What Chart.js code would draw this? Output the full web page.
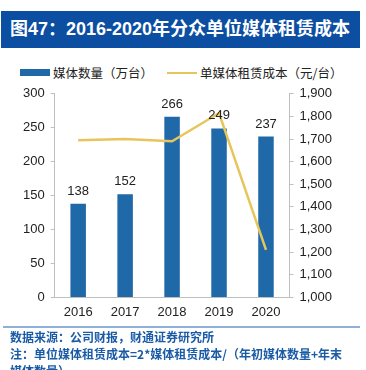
<!DOCTYPE html>
<html>
<head>
<meta charset="utf-8">
<script src="https://cdn.jsdelivr.net/npm/chart.js@4"></script>
<style>
  body { margin: 0; width: 366px; height: 370px; overflow: hidden; background: #fff; font-family: "Noto Sans CJK SC", sans-serif; }
  #title { position: absolute; left: 1px; top: 11px; width: 359px; height: 37px; background: #0b4ea2; color: #fff;
           font-family: "Liberation Sans", "Noto Sans CJK SC", sans-serif;
           font-size: 18px; font-weight: bold; line-height: 37px; padding-left: 9px; box-sizing: border-box; white-space: nowrap; }
  #legend { position: absolute; left: 20px; top: 62px; font-size: 12.5px; color: #222; white-space: nowrap; line-height: 18px; }
  #legend span { display: inline-block; vertical-align: middle; }
  .sw-bar { width: 30px; height: 7px; background: #1f69a8; margin-right: 3px; }
  .sw-line { width: 30px; height: 2px; background: #e8c55a; margin: 0 3px 0 14px; }
  #box { position: absolute; left: 0; top: 80px; width: 366px; height: 251px; }
  #sep { position: absolute; left: 3px; top: 326px; width: 357px; height: 2px; background: #8fb0d8; }
  #foot { position: absolute; left: 10px; top: 328px; width: 350px; color: #1a5ba6; font-size: 12px; line-height: 17px; font-weight: bold; }
</style>
</head>
<body>
<div id="title">图47：2016-2020年分众单位媒体租赁成本</div>
<div id="legend"><span class="sw-bar"></span><span id="lg0"></span><span class="sw-line"></span><span id="lg1"></span></div>
<div id="box"><canvas id="chart"></canvas></div>
<div id="sep"></div>
<div id="foot">数据来源：公司财报，财通证券研究所<br>注：单位媒体租赁成本=2*媒体租赁成本/（年初媒体数量+年末<br>媒体数量）</div>
<script>
// 数据
var years = ["2016", "2017", "2018", "2019", "2020"];
var seriesNames = ["媒体数量（万台）", "单媒体租赁成本（元/台）"];
var mediaCount = [138, 152, 266, 249, 237];   // 媒体数量（万台）
var unitCost = [1695, 1700, 1690, 1815, 1210]; // 单媒体租赁成本（元/台）
var leftTicks = [0, 300, 50];
var rightTicks = [1000, 1900, 100];

document.getElementById("lg0").textContent = seriesNames[0];
document.getElementById("lg1").textContent = seriesNames[1];

// 柱子上方的数值
var barLabels = {
  id: "barLabels",
  afterDatasetsDraw: function (chart) {
    var ctx = chart.ctx;
    var meta = chart.getDatasetMeta(0);
    ctx.save();
    ctx.font = "13px 'Liberation Sans', Arial, sans-serif";
    ctx.fillStyle = "#222";
    ctx.textAlign = "center";
    ctx.textBaseline = "bottom";
    meta.data.forEach(function (bar, i) {
      ctx.fillText(mediaCount[i], bar.x, bar.y - 6);
    });
    ctx.restore();
  }
};

var tickFont = { family: "'Liberation Sans', Arial, sans-serif", size: 13 };

var chart = new Chart(document.getElementById("chart"), {
  type: "bar",
  data: {
    labels: years,
    datasets: [{
      label: seriesNames[0],
      data: mediaCount,
      backgroundColor: "#1f69a8",
      barPercentage: 0.66,
      categoryPercentage: 0.5,
      yAxisID: "y",
      order: 2
    }, {
      type: "line",
      label: seriesNames[1],
      data: unitCost,
      borderColor: "#e8c55a",
      borderWidth: 2.5,
      pointRadius: 0,
      tension: 0,
      yAxisID: "y1",
      order: 1
    }]
  },
  options: {
    responsive: true,
    maintainAspectRatio: false,
    animation: false,
    layout: { padding: { left: 17, right: 28, top: 7, bottom: 4 } },
    plugins: {
      legend: { display: false },
      tooltip: { enabled: false }
    },
    scales: {
      x: {
        grid: { display: false, drawTicks: false, tickLength: 0 },
        border: { color: "#bfbfbf" },
        ticks: { color: "#222", font: tickFont, padding: 7 }
      },
      y: {
        position: "left",
        min: leftTicks[0], max: leftTicks[1],
        ticks: { stepSize: leftTicks[2], color: "#222", font: tickFont, padding: 6 },
        grid: { drawOnChartArea: false, tickLength: 4, color: "#bfbfbf" },
        border: { color: "#bfbfbf" }
      },
      y1: {
        position: "right",
        min: rightTicks[0], max: rightTicks[1],
        ticks: {
          stepSize: rightTicks[2], color: "#222", font: tickFont, padding: 6,
          callback: function (v) { return v.toLocaleString("en-US"); }
        },
        grid: { drawOnChartArea: false, tickLength: 4, color: "#bfbfbf" },
        border: { color: "#bfbfbf" }
      }
    }
  },
  plugins: [barLabels]
});
</script>
</body>
</html>
